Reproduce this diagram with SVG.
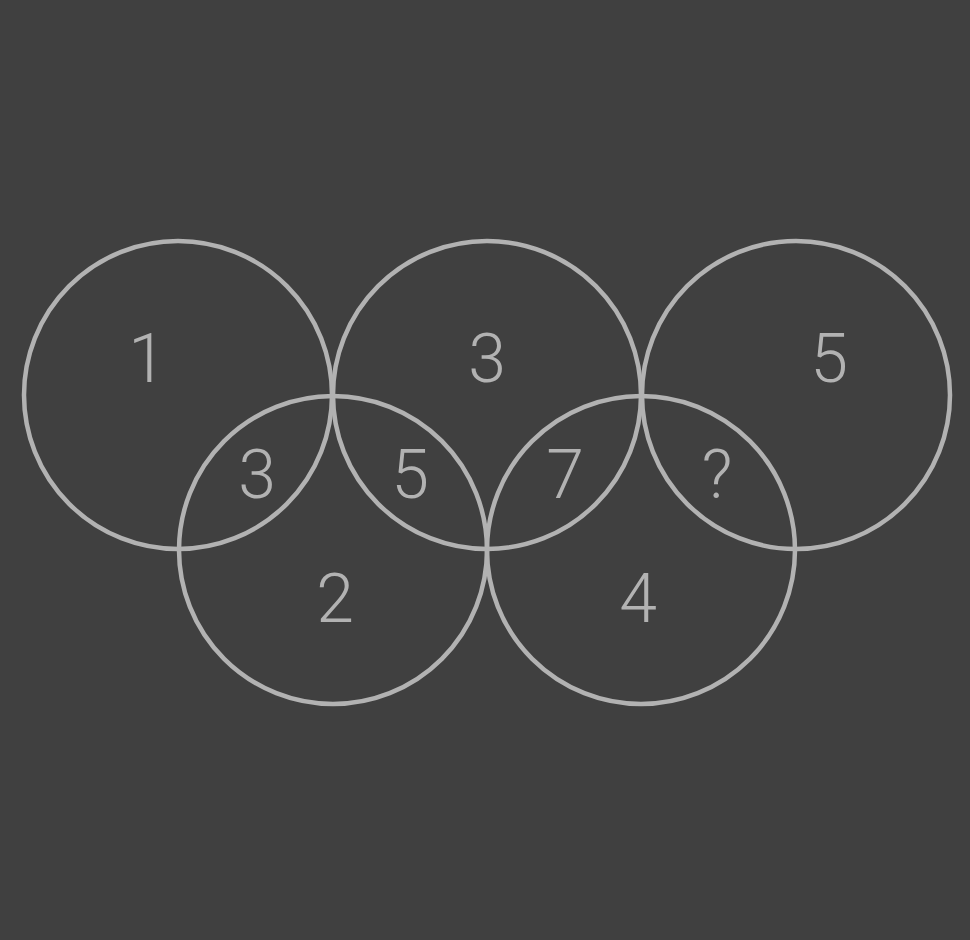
<svg xmlns="http://www.w3.org/2000/svg" width="970" height="940" viewBox="0 0 970 940">
<style>
.ring{fill:none;stroke:#b2b2b2;stroke-width:4.5}
.lbl{font-family:Roboto,"Liberation Sans",sans-serif;font-weight:300;font-size:68px;fill:#b2b2b2;text-anchor:middle}
</style>
<rect width="970" height="940" fill="#404040"/>
<g id="ring1"><circle class="ring" cx="178" cy="395" r="154"/></g>
<g id="ring2"><circle class="ring" cx="487" cy="395" r="154"/></g>
<g id="ring3"><circle class="ring" cx="796" cy="395" r="154"/></g>
<g id="ring4"><circle class="ring" cx="333" cy="550" r="154"/></g>
<g id="ring5"><circle class="ring" cx="641" cy="550" r="154"/></g>
<g id="labels">
<text class="lbl" x="147" y="382">1</text>
<text class="lbl" x="487" y="382">3</text>
<text class="lbl" x="829" y="382">5</text>
<text class="lbl" x="257" y="498">3</text>
<text class="lbl" x="410" y="498">5</text>
<text class="lbl" x="565" y="498">7</text>
<text class="lbl" x="717" y="498">?</text>
<text class="lbl" x="335" y="622">2</text>
<text class="lbl" x="638" y="622">4</text>
</g>
</svg>
